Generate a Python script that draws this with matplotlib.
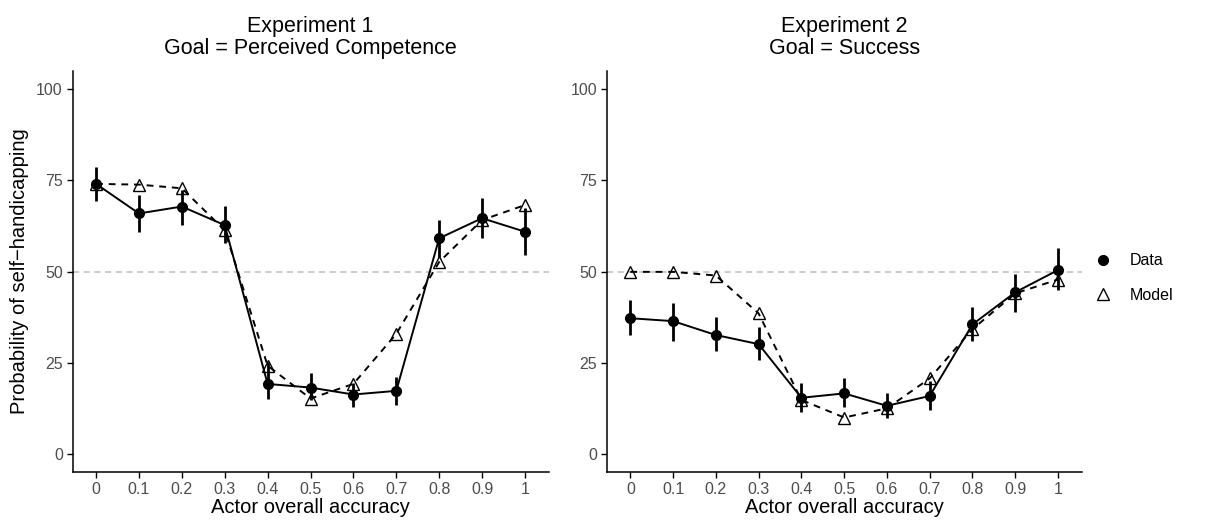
import matplotlib
matplotlib.use("Agg")
import matplotlib.pyplot as plt
from matplotlib.lines import Line2D

plt.rcParams["font.family"] = ["Liberation Sans", "DejaVu Sans"]

accuracy = [0, 0.1, 0.2, 0.3, 0.4, 0.5, 0.6, 0.7, 0.8, 0.9, 1.0]
tick_labels = ["0", "0.1", "0.2", "0.3", "0.4", "0.5", "0.6", "0.7", "0.8", "0.9", "1"]

# Experiment 1 (goal = perceived competence)
exp1_data = [74.0, 65.9, 67.8, 62.7, 19.2, 18.2, 16.3, 17.3, 59.1, 64.6, 60.9]
exp1_lo = [69.2, 60.9, 62.7, 57.7, 15.2, 14.8, 13.0, 13.4, 54.1, 59.1, 54.5]
exp1_hi = [78.6, 71.0, 72.3, 68.0, 25.3, 22.1, 19.5, 21.0, 64.1, 70.2, 67.3]
exp1_model = [74.0, 73.8, 72.8, 61.3, 24.2, 15.2, 19.2, 32.9, 52.6, 64.1, 68.2]

# Experiment 2 (goal = success)
exp2_data = [37.2, 36.4, 32.6, 30.1, 15.4, 16.6, 13.2, 15.9, 35.5, 44.3, 50.4]
exp2_lo = [32.6, 31.0, 28.3, 25.8, 11.6, 13.0, 9.9, 12.1, 31.0, 39.0, 44.8]
exp2_hi = [42.2, 41.3, 37.6, 34.9, 19.4, 20.7, 16.8, 20.1, 40.2, 49.2, 56.5]
exp2_model = [49.9, 49.9, 48.9, 38.5, 14.8, 10.0, 12.5, 20.7, 34.2, 44.0, 47.8]

panels = [
    ("Experiment 1\nGoal = Perceived Competence", exp1_data, exp1_lo, exp1_hi, exp1_model),
    ("Experiment 2\nGoal = Success", exp2_data, exp2_lo, exp2_hi, exp2_model),
]

fig = plt.figure(figsize=(12.11, 5.25), dpi=100)
W, H = 1211, 525
boxes = [(72.5, 548.5), (606.8, 1081.5)]
top, bottom = 70.75, 472.25

for (title, data, lo, hi, model), (x0, x1) in zip(panels, boxes):
    ax = fig.add_axes([x0 / W, 1 - bottom / H, (x1 - x0) / W, (bottom - top) / H])
    ax.axhline(50, color="#bdbdbd", linestyle=(0, (4, 3)), linewidth=1.1, zorder=1)
    ax.plot(accuracy, model, color="black", linestyle=(0, (3.5, 3)), linewidth=1.4, zorder=2)
    ax.plot(accuracy, data, color="black", linewidth=1.4, zorder=3)
    ax.vlines(accuracy, lo, hi, color="black", linewidth=2.0, zorder=3)
    ax.plot(accuracy, data, "o", color="black", markersize=7, zorder=4)
    ax.plot(accuracy, model, "^", markerfacecolor="none", markeredgecolor="black",
            markersize=8.5, markeredgewidth=1.0, zorder=5)
    ax.set_xlim(-0.055, 1.055)
    ax.set_ylim(-5, 105)
    ax.set_xticks(accuracy)
    ax.set_xticklabels(tick_labels)
    ax.set_yticks([0, 25, 50, 75, 100])
    for s in ("top", "right"):
        ax.spines[s].set_visible(False)
    for s in ("left", "bottom"):
        ax.spines[s].set_linewidth(1.1)
    ax.tick_params(axis="both", labelsize=11.5, labelcolor="#4d4d4d", length=4.5, width=1.0, pad=2.5)
    ax.set_xlabel("Actor overall accuracy", fontsize=14.5, labelpad=1)
    ax.set_title(title, fontsize=15.5, pad=12, linespacing=1.05)
    if x0 < 100:
        ax.set_ylabel("Probability of self\u2212handicapping", fontsize=14.5, labelpad=5)

handles = [
    Line2D([], [], linestyle="none", marker="o", color="black", markersize=7),
    Line2D([], [], linestyle="none", marker="^", markerfacecolor="none",
           markeredgecolor="black", markersize=8.5),
]
fig.legend(handles, ["Data", "Model"], loc="center left", bbox_to_anchor=(1077 / W, 1 - 278 / H),
           frameon=False, fontsize=11.5, handletextpad=0.9, labelspacing=1.2, handlelength=1.5)

fig.savefig("out.png", dpi=100)
